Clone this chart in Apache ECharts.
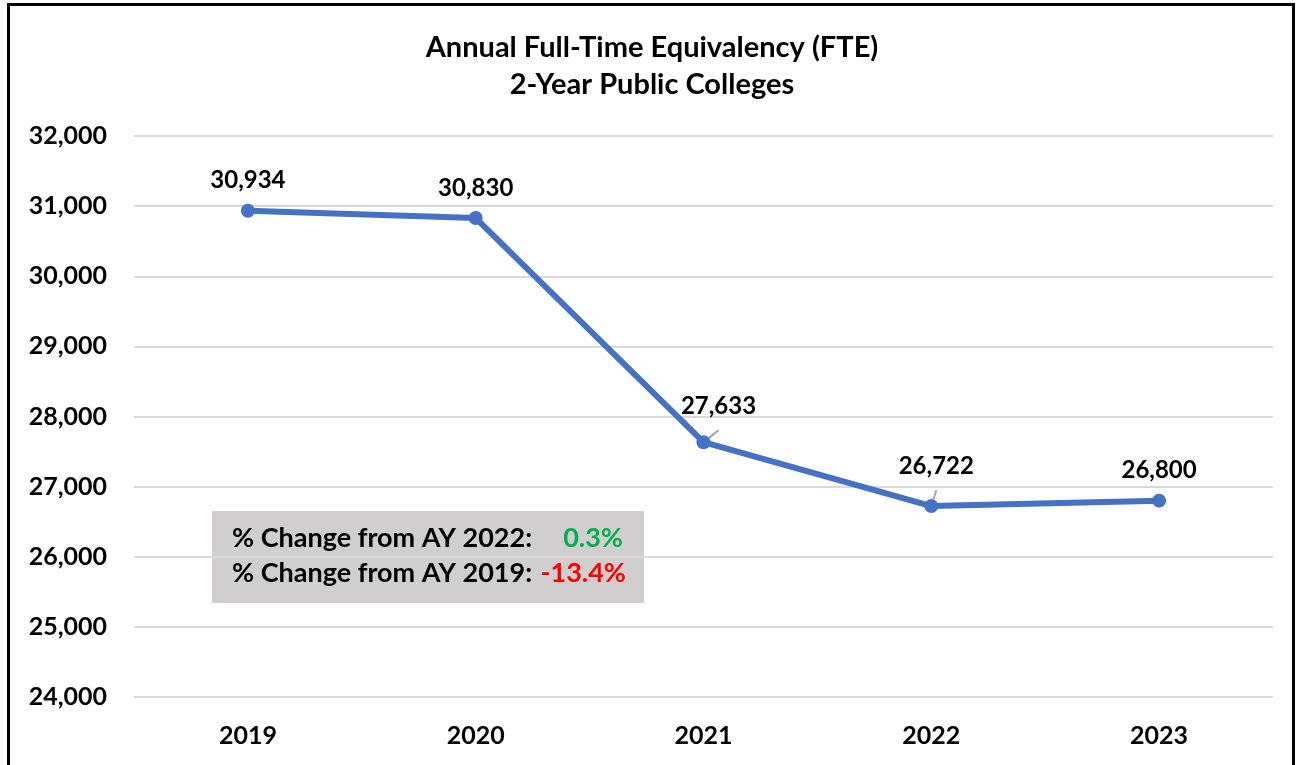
<!DOCTYPE html>
<html>
<head>
<meta charset="utf-8">
<script src="https://cdn.jsdelivr.net/npm/echarts@6/dist/echarts.min.js"></script>
<style>
html,body{margin:0;padding:0;background:#fff;}
#wrap{position:absolute;left:7px;top:3px;width:1288px;height:770px;border:3px solid #000;border-bottom:none;box-sizing:border-box;}
#main{position:absolute;left:0;top:0;width:1304px;height:765px;}
</style>
</head>
<body>
<div id="wrap"></div>
<div id="main"></div>
<script>
var years = ['2019', '2020', '2021', '2022', '2023'];
var fte = [30934, 30830, 27633, 26722, 26800];
var changeLines = ['% Change from AY 2022:', '% Change from AY 2019:'];
var changeValues = ['0.3%', '-13.4%'];

var FONT = 'Lato';

// labels with a little leader line for 2021 and 2022
var seriesData = fte.map(function (v, i) {
	var d = {value: v};
	if (i == 2) {
		d.label = {offset: [15, -6]};
		d.labelLine = {show: true};
	}
	if (i == 3) {
		d.label = {offset: [5, -10]};
		d.labelLine = {show: true};
	}
	return d;
});

var myChart = echarts.init(document.getElementById('main'));
myChart.setOption({
	animation: false,
	title: {
		text: 'Annual Full-Time Equivalency (FTE)\n2-Year Public Colleges',
		left: 'center',
		top: 24,
		textStyle: {fontFamily: FONT, fontSize: 29, fontWeight: 'bold', color: '#000', lineHeight: 37}
	},
	grid: {left: 134, right: 31, top: 136, bottom: 68},
	xAxis: {
		type: 'category',
		data: years,
		axisLine: {show: false},
		axisTick: {show: false},
		axisLabel: {fontFamily: FONT, fontSize: 25, fontWeight: 'bold', color: '#000', margin: 26}
	},
	yAxis: {
		type: 'value',
		min: 24000,
		max: 32000,
		interval: 1000,
		axisLabel: {
			fontFamily: FONT, fontSize: 25, fontWeight: 'bold', color: '#000', margin: 27,
			formatter: function (v) { return v.toLocaleString('en-US'); }
		},
		splitLine: {lineStyle: {color: '#d9d9d9', width: 2}}
	},
	series: [{
		type: 'line',
		data: seriesData,
		symbol: 'circle',
		symbolSize: 14,
		lineStyle: {color: '#4472c4', width: 6},
		itemStyle: {color: '#4472c4'},
		label: {
			show: true,
			position: 'top',
			distance: 11,
			fontFamily: FONT, fontSize: 24, fontWeight: 'bold', color: '#000',
			formatter: function (p) { return p.value.toLocaleString('en-US'); }
		},
		labelLine: {lineStyle: {color: '#a6a6a6', width: 2}}
	}],
	graphic: [{
		type: 'group',
		left: 212,
		top: 511,
		children: [{
			type: 'rect',
			shape: {x: 0, y: 0, width: 432, height: 92},
			style: {fill: '#d0cece'}
		}, {
			type: 'text',
			x: 20, y: 14,
			style: {text: changeLines[0], font: 'bold 27px ' + FONT, fill: '#000'}
		}, {
			type: 'text',
			x: 411, y: 14,
			style: {text: changeValues[0], font: 'bold 27px ' + FONT, fill: '#00b050', align: 'right'}
		}, {
			type: 'text',
			x: 20, y: 49,
			style: {text: changeLines[1], font: 'bold 27px ' + FONT, fill: '#000'}
		}, {
			type: 'text',
			x: 414, y: 49,
			style: {text: changeValues[1], font: 'bold 27px ' + FONT, fill: '#ff0000', align: 'right'}
		}]
	}]
});
</script>
</body>
</html>
